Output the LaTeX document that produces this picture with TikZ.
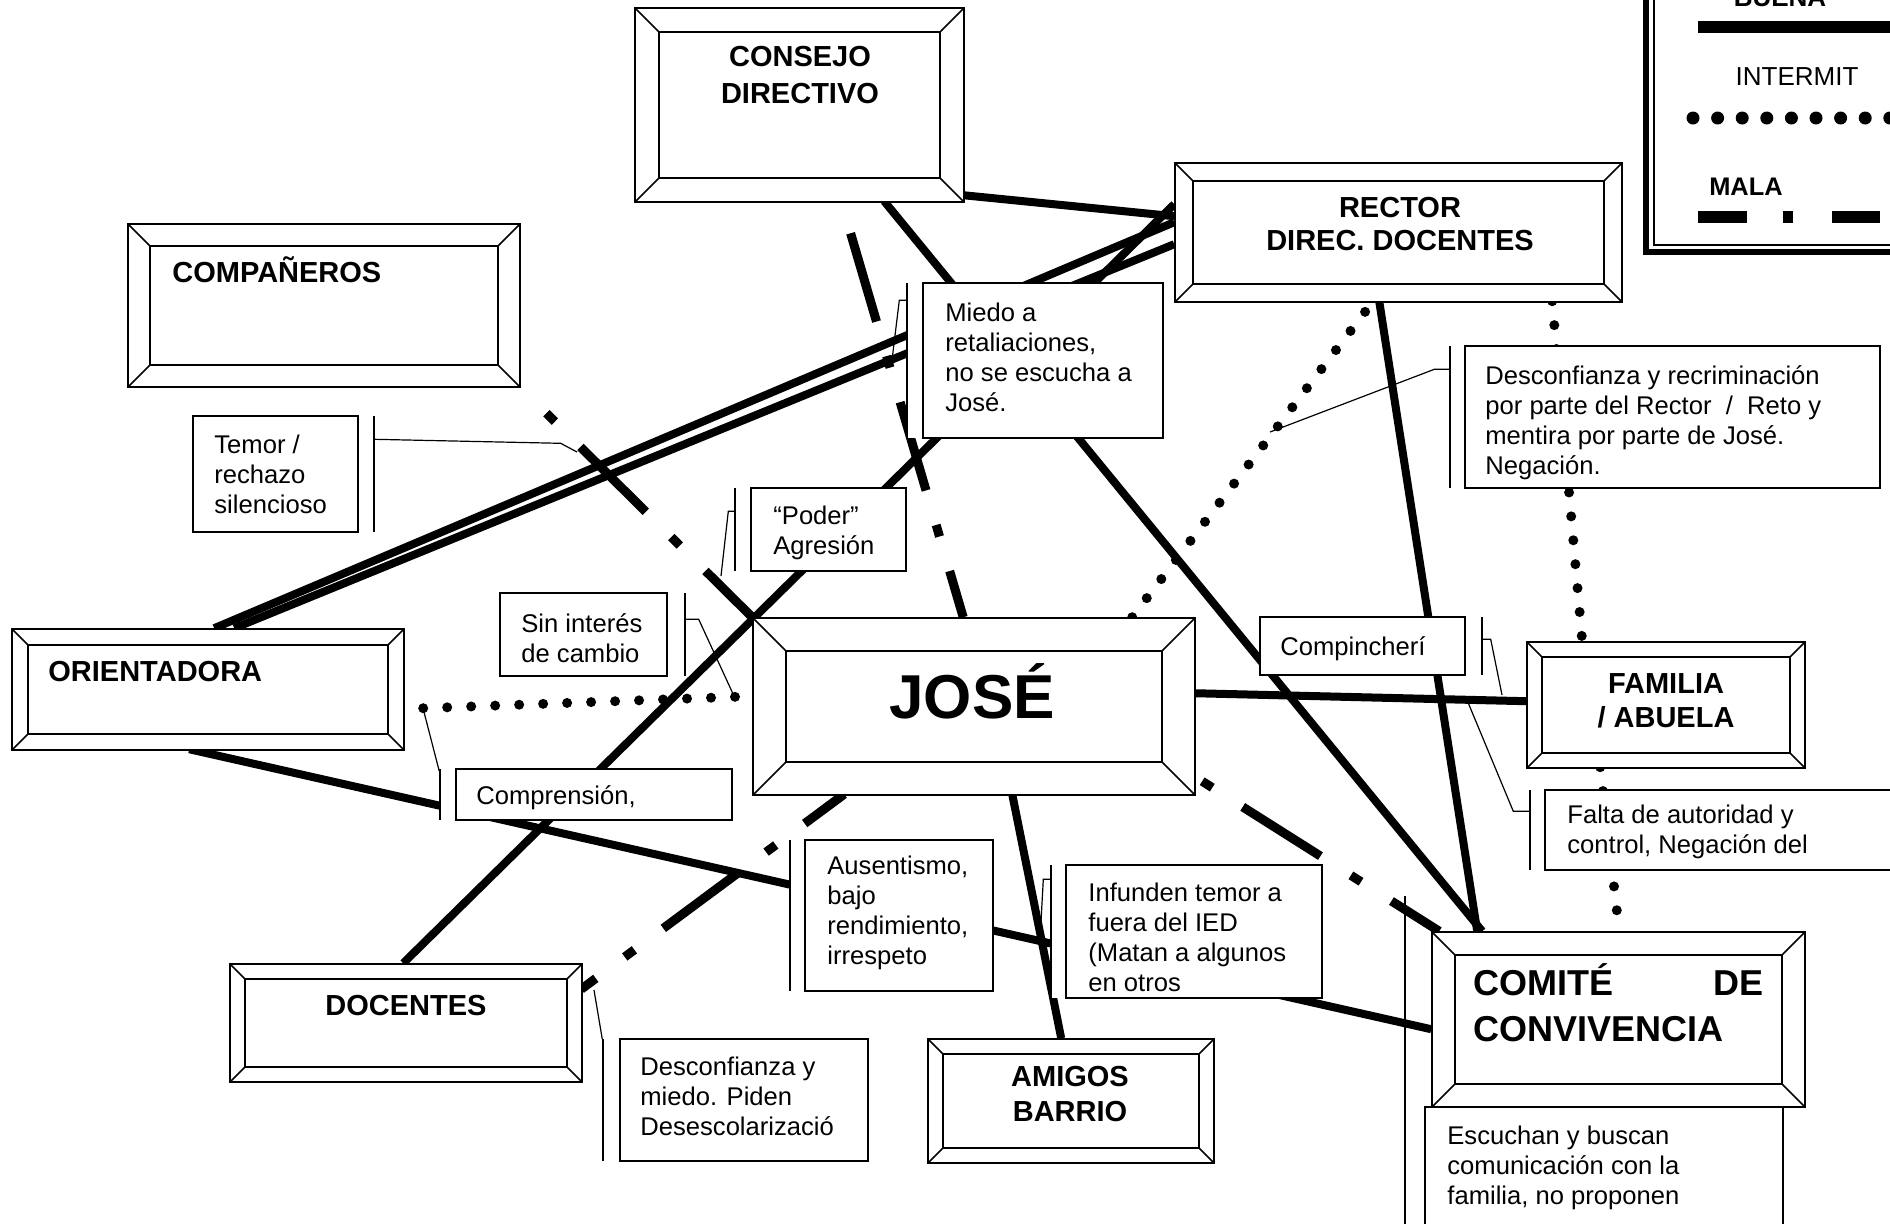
\documentclass[tikz,border=0pt]{standalone}
\usepackage{fontspec}
\setmainfont{Liberation Sans}
\usetikzlibrary{calc}
\pgfdeclarelayer{bg}
\pgfsetlayers{bg,main}
\tikzset{
  bevdepth/.estore in=\bevdepth, bevdepth=10pt,
  bevel/.style={draw, line width=0.8pt, fill=white, rectangle, inner sep=0pt,
    path picture={
      \draw[line width=0.8pt] ([shift={(\bevdepth,\bevdepth)}]path picture bounding box.south west) rectangle ([shift={(-\bevdepth,-\bevdepth)}]path picture bounding box.north east);
      \draw[line width=0.8pt] (path picture bounding box.south west) -- ++(\bevdepth,\bevdepth)
        (path picture bounding box.south east) -- ++(-\bevdepth,\bevdepth)
        (path picture bounding box.north west) -- ++(\bevdepth,-\bevdepth)
        (path picture bounding box.north east) -- ++(-\bevdepth,-\bevdepth);
    }},
  labelbox/.style={draw, line width=0.7pt, fill=white, rectangle, inner sep=0pt},
  barline/.style={line width=0.7pt},
  leader/.style={line width=0.6pt},
  title/.style={font=\bfseries\fontsize{14.5}{17}\selectfont, align=center, inner sep=0pt},
  lab/.style={font=\fontsize{12.8}{15}\selectfont, align=left, inner sep=0pt, anchor=north west},
  good/.style={line width=4pt},
  inter/.style={line width=5pt, line cap=round, dash pattern=on 0pt off 12pt},
  bad/.style={line width=4.5pt, dash pattern=on 46pt off 18pt on 6pt off 18pt},
}
\newcommand\bevbox[6]{%
  \pgfmathsetmacro\bxw{(#4-#2)*0.5}%
  \pgfmathsetmacro\bxh{(#5-#3)*0.5}%
  \pgfmathsetmacro\bxd{#6*0.5}%
  \node[bevel, bevdepth=\bxd pt, minimum width=\bxw pt, minimum height=\bxh pt] (#1) at ({(#2+#4)/2},{(#3+#5)/2}) {};}
\newcommand\callout[7]{%
  \pgfmathsetmacro\bxw{(#4-#2)*0.5}%
  \pgfmathsetmacro\bxh{(#5-#3)*0.5}%
  \fill[white] (#6,#3) rectangle (#7,#5);
  \node[labelbox, minimum width=\bxw pt, minimum height=\bxh pt] (#1) at ({(#2+#4)/2},{(#3+#5)/2}) {};
  \draw[barline] (#6,#3) -- (#6,#5);}
\begin{document}
\begin{tikzpicture}[x=0.5pt,y=-0.5pt]
\useasboundingbox (0,0) rectangle (1890,1223);

% ---------- boxes ----------
\bevbox{cons}{635}{8}{964}{202}{24}
\bevbox{rect}{1175}{163}{1622}{302}{18}
\bevbox{comp}{128}{224}{520}{387}{22}
\bevbox{ori}{12}{629}{404}{750}{16}
\bevbox{jose}{753}{618}{1195}{795}{33}
\bevbox{fam}{1527}{642}{1805}{768}{15}
\bevbox{comi}{1432}{932}{1805}{1107}{23}
\bevbox{doc}{230}{964}{582}{1082}{15}
\bevbox{amig}{928}{1039}{1214}{1163}{15}

\node[title, anchor=north, font=\bfseries\fontsize{14.5}{18.5}\selectfont] (consT) at (800,46) {CONSEJO\\DIRECTIVO};
\node[title, anchor=north, font=\bfseries\fontsize{14.5}{16.5}\selectfont] (rectT) at (1400,197) {RECTOR\\DIREC. DOCENTES};
\node[title, anchor=base west] (compT) at (172,282) {COMPAÑEROS};
\node[title, anchor=base west] (oriT) at (48,681) {ORIENTADORA};
\node[font=\bfseries\fontsize{31}{36}\selectfont, inner sep=0pt, anchor=base] (joseT) at (972,718) {JOSÉ};
\node[title, anchor=north] (famT) at (1666,673) {FAMILIA\\/ ABUELA};
\node[font=\bfseries\fontsize{18}{23}\selectfont, inner sep=0pt, anchor=base west] (comiT) at (1473,995) {\makebox[145pt][s]{COMITÉ\hfill DE}};
\node[font=\bfseries\fontsize{18}{23}\selectfont, inner sep=0pt, anchor=base west] (comiU) at (1473,1041) {CONVIVENCIA};
\node[title, anchor=base] (docT) at (406,1015) {DOCENTES};
\node[title, anchor=north, font=\bfseries\fontsize{14.5}{17.5}\selectfont] (amigT) at (1070,1066) {AMIGOS\\BARRIO};

% ---------- connectors ----------
\begin{pgfonlayer}{bg}
\draw[good] ([shift={(329,188)}]cons.north west) -- ([shift={(0,54)}]rect.north west);
\draw[good] ([shift={(250,194)}]cons.north west) -- ([shift={(51,0)}]comi.north west);
\draw[good] ([shift={(205,139)}]rect.north west) -- ([shift={(46,0)}]comi.north west);
\draw[inter] ([shift={(380,0)}]jose.north west) -- ([shift={(199,139)}]rect.north west);
\draw[inter] ([shift={(378,139)}]rect.north west) -- ([shift={(56,0)}]fam.north west);
\draw[inter] ([shift={(74,126)}]fam.north west) -- ([shift={(188,0)}]comi.north west);
\draw[good] ([shift={(442,76)}]jose.north west) -- ([shift={(0,60)}]fam.north west);
\draw[bad, dash phase=59.3pt] ([shift={(442,159)}]jose.north west) -- ([shift={(8,0)}]comi.north west);
\draw[good] ([shift={(260,177)}]jose.north west) -- ([shift={(134,0)}]amig.north west);
\draw[bad, dash phase=21.4pt] ([shift={(92,177)}]jose.north west) -- ([shift={(352,26)}]doc.north west);
\draw[inter] ([shift={(412,80)}]ori.north west) -- ([shift={(0,79)}]jose.north west);
\draw[good] ([shift={(178,121)}]ori.north west) -- ([shift={(0,98)}]comi.north west);
\draw[bad, dash phase=71.3pt] ([shift={(207,194)}]cons.north west) -- ([shift={(211,0)}]jose.north west);
\draw[bad, dash phase=46pt] (comp.south east) -- (jose.north west);
\draw[good] ([shift={(203,0)}]ori.north west) -- ([shift={(0,60)}]rect.north west);
\draw[good] ([shift={(223,0)}]ori.north west) -- ([shift={(0,82)}]rect.north west);
\draw[good] ([shift={(174,0)}]doc.north west) -- ([shift={(0,42)}]rect.north west);
\end{pgfonlayer}

% ---------- callouts ----------
\callout{lA}{193}{416}{358}{532}{374}{358}
\callout{lB}{923}{283}{1163}{438}{907}{923}
\callout{lC}{751}{488}{906}{571}{735}{751}
\callout{lD}{500}{593}{667}{676}{685}{667}
\callout{lE}{456}{769}{732}{820}{440}{456}
\callout{lF}{805}{840}{993}{991}{790}{805}
\callout{lG}{1066}{865}{1322}{998}{1051}{1066}
\callout{lH}{620}{1039}{868}{1161}{603}{620}
\callout{lI}{1465}{346}{1880}{488}{1450}{1465}
\callout{lJ}{1260}{617}{1465}{675}{1482}{1465}
\callout{lK}{1545}{790}{1900}{870}{1530}{1545}
\callout{lL}{1425}{1107}{1783}{1240}{1405}{1425}
\draw[barline] (1405,896) -- (1405,1107);

\node[lab] (tA) at (214,435) {Temor /\\rechazo\\silencioso};
\node[lab] (tB) at (945,303) {Miedo a\\retaliaciones,\\no se escucha a\\José.};
\node[lab] (tC) at (773,506) {“Poder”\\Agresión};
\node[lab] (tD) at (521,613) {Sin interés\\de cambio};
\node[lab] (tE) at (476,785) {Comprensión,};
\node[lab] (tF) at (827,856) {Ausentismo,\\bajo\\rendimiento,\\irrespeto};
\node[lab] (tG) at (1088,883) {Infunden temor a\\fuera del IED\\(Matan a algunos\\en otros};
\node[lab] (tH) at (640,1057) {Desconfianza y\\miedo. Piden\\Desescolarizació};
\node[lab] (tI) at (1485,365) {Desconfianza y recriminación\\por parte del Rector~~/~~Reto y\\mentira por parte de José.\\Negación.};
\node[lab] (tJ) at (1280,636) {Compincherí};
\node[lab] (tK) at (1567,805) {Falta de autoridad y\\control, Negación del};
\node[lab] (tL) at (1447,1126) {Escuchan y buscan\\comunicación con la\\familia, no proponen};

% leader targets
\coordinate (pA) at (577,452);
\coordinate (pB) at (892,360);
\coordinate (pC) at (721,576);
\coordinate (pD) at (734,696);
\coordinate (pE) at (424,712);
\coordinate (pG) at (1040,940);
\coordinate (pH) at (594,990);
\coordinate (pI) at (1270,432);
\coordinate (pJ) at (1502,695);
\coordinate (pK) at (1467,700);
\draw[leader] ([shift={(16,24)}]lA.north east) -- ++(186,4) -- (pA);
\draw[leader] ([shift={(-16,18)}]lB.north west) -- ++(-7,0) -- (pB);
\draw[leader] ([shift={(-16,24)}]lC.north west) -- ++(-6,0) -- (pC);
\draw[leader] ([shift={(18,27)}]lD.north east) -- ++(13,0) -- (pD);
\draw[leader] ([shift={(-16,3)}]lE.north west) -- (pE);
\draw[leader] ([shift={(-15,15)}]lG.north west) -- ++(-7,0) -- (pG);
\draw[leader] ([shift={(-17,1)}]lH.north west) -- (pH);
\draw[leader] ([shift={(-15,24)}]lI.north west) -- ++(-15,0) -- (pI);
\draw[leader] ([shift={(17,23)}]lJ.north east) -- ++(8,0) -- (pJ);
\draw[leader] ([shift={(-15,22)}]lK.north west) -- ++(-16,0) -- (pK);

% ---------- legend ----------
\draw[line width=3pt] (1646,-20) -- (1646,252) -- (1910,252);
\draw[line width=0.6pt] (1654,-20) -- (1654,245) -- (1910,245);
\node[font=\bfseries\fontsize{13}{15}\selectfont, inner sep=0pt, anchor=base] (lgB) at (1780,6) {BUENA};
\draw[line width=6pt] (1698,27) -- (1890,27);
\node[font=\fontsize{13}{15}\selectfont, inner sep=0pt] (lgI) at (1797,77) {INTERMIT};
\draw[line width=6.5pt, line cap=round, dash pattern=on 0pt off 12.3pt] (1693,118) -- (1900,118);
\node[font=\bfseries\fontsize{12.7}{15}\selectfont, inner sep=0pt] (lgM) at (1746,187) {MALA};
\fill (1698,211) rectangle (1747,223);
\fill (1783,211) rectangle (1793,223);
\fill (1832,211) rectangle (1880,223);
\end{tikzpicture}
\end{document}
